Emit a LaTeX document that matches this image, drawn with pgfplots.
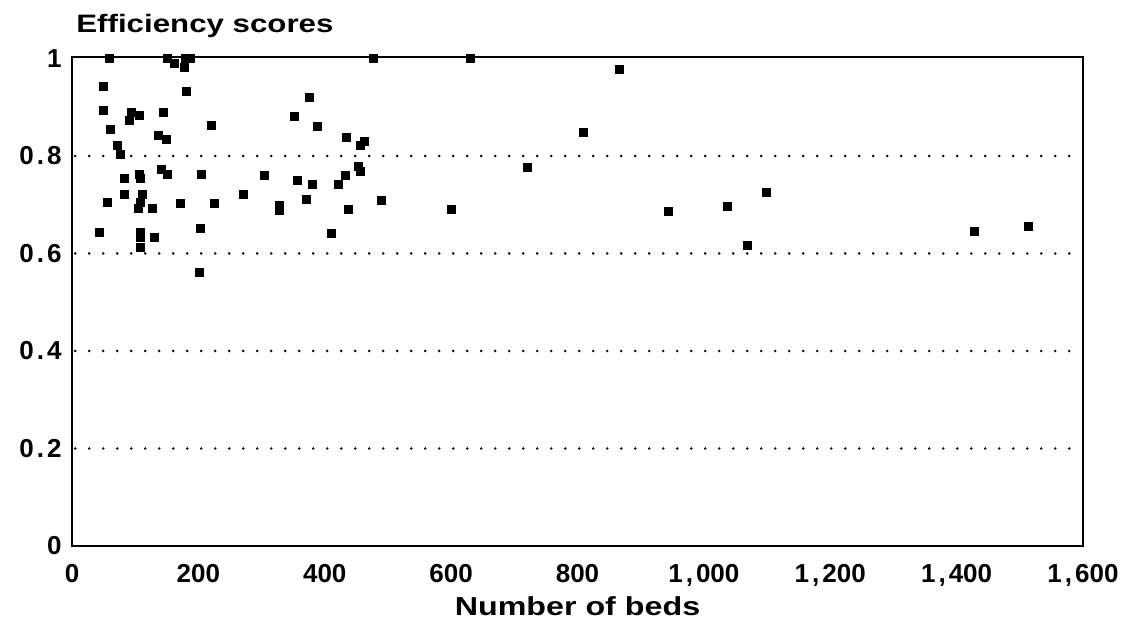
\documentclass[border=0pt]{standalone}
\usepackage{pgfplots}
\pgfplotsset{compat=1.18}
\usepackage{fontspec}
\setmainfont{Liberation Sans}
\newfontfamily\cf[FakeStretch=1.24]{Liberation Sans}
\newfontfamily\nf{Liberation Sans}
\newcommand\pd{\kern1.5pt.\kern1.5pt}
\newcommand\cm{\kern1.5pt,\kern1.5pt}

\pgfplotstableread{
x y
59 1.00
151 1.00
162 0.99
180 1.00
188 1.00
178 0.982
50 0.943
181 0.933
375 0.92
50 0.894
94 0.89
106 0.884
91 0.873
144 0.89
352 0.881
220 0.862
388 0.861
60 0.855
137 0.843
150 0.833
72 0.822
76 0.803
142 0.773
151 0.762
204 0.762
305 0.76
83 0.753
106 0.763
108 0.753
356 0.75
381 0.741
83 0.722
112 0.722
272 0.721
56 0.704
108 0.704
105 0.693
128 0.693
172 0.702
225 0.702
328 0.699
328 0.688
371 0.71
43 0.644
109 0.644
109 0.633
130 0.632
203 0.651
109 0.612
201 0.561
477 1.00
631 1.00
434 0.839
457 0.821
462 0.829
454 0.778
456 0.769
432 0.76
421 0.741
437 0.69
489 0.708
601 0.69
411 0.641
867 0.978
809 0.848
721 0.777
944 0.686
1037 0.697
1099 0.726
1069 0.616
1428 0.646
1514 0.655
}\pts

\begin{document}
\begin{tikzpicture}[x=1pt,y=1pt]
\path[use as bounding box] (-36,-39.5) rectangle (527.5,273);
\begin{axis}[
  at={(0,0)}, anchor=south west, scale only axis,
  width=505.5pt, height=244.5pt,
  xmin=0, xmax=1600, ymin=0, ymax=1.003,
  axis line style={line width=1.35pt},
  xtick={0,200,...,1600},
  xticklabels={0,200,400,600,800,{1\cm000},{1\cm200},{1\cm400},{1\cm600}},
  ytick={0,0.2,0.4,0.6,0.8,1},
  yticklabels={0,0\pd2,0\pd4,0\pd6,0\pd8,1},
  major tick length=0pt,
  ticklabel style={font=\nf\bfseries\fontsize{13}{15}\selectfont, inner sep=0pt},
  xticklabel style={anchor=base, yshift=-18pt},
  yticklabel style={anchor=east, xshift=-5pt},
  xlabel={Number of beds},
  xlabel style={font=\cf\bfseries\fontsize{13}{15}\selectfont, inner sep=0pt, at={(axis description cs:0.5,0)}, anchor=base, yshift=-34.5pt},
  clip=false,
]
\foreach \yy in {0.2,0.4,0.6,0.8}{
  \edef\tmp{\noexpand\draw[line width=1.4pt, line cap=round, dash pattern=on 0pt off 7pt] (axis cs:5,\yy) -- (axis cs:1595,\yy);}
  \tmp
}
\addplot[only marks, mark=square*, mark size=2pt, black] table[x=x,y=y] {\pts};
\node[anchor=base west, font=\cf\bfseries\fontsize{12.6}{14}\selectfont, inner sep=0pt] at (rel axis cs:0,1) [xshift=2pt, yshift=12pt] {Efficiency scores};
\end{axis}
\end{tikzpicture}
\end{document}
